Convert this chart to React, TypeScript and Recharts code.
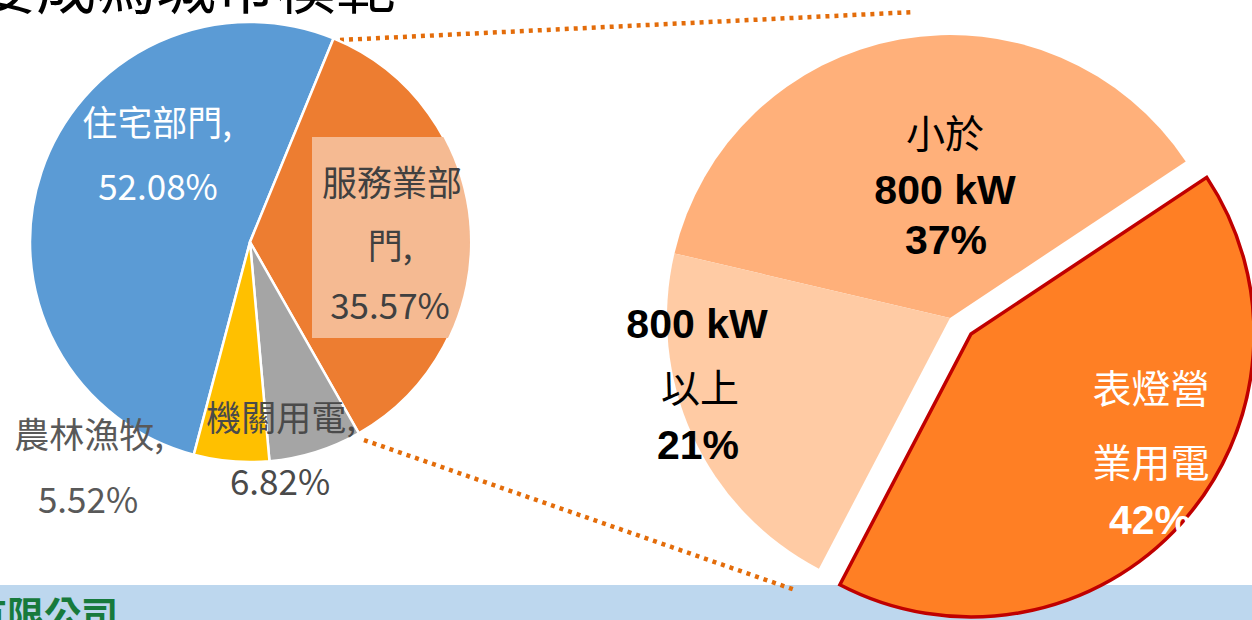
import React from 'react';
import { PieChart, Pie, Cell } from 'recharts';

const W = 1252;
const H = 620;

// Left pie: electricity use by sector (%)
const sectorNames = ['住宅部門', '服務業部門', '機關用電', '農林漁牧'];
const sectorShares = [52.08, 35.57, 6.82, 5.52];
const sectorColors = ['#5B9BD5', '#ED7D31', '#A5A5A5', '#FFC000'];

// Right pie: breakdown of service sector (%)
const serviceTop = ['小於', '800 kW', '表燈營'];
const serviceBottom = ['800 kW', '以上', '業用電'];
const serviceShares = [37, 21, 42];
const serviceColors = ['#FFB07A', '#FFCBA4', '#FF7F24'];

const leftData = sectorNames.map((name, i) => ({ name, value: sectorShares[i] }));
const rightData = serviceShares.map((value, i) => ({ name: serviceTop[i] + serviceBottom[i], value }));

const CJK = "'Noto Sans CJK TC', 'Noto Sans CJK SC', sans-serif";
const ARIAL = "'Liberation Sans', Arial, 'Noto Sans CJK TC', sans-serif";

// label layout offsets (relative to pie centre)
const leftLabelOffsets: number[][][] = [
  [[-93, -122], [-92, -58]],
  [[142, -62], [140, 1], [140, 61]],
  [[31, 173], [30, 237]],
  [[-161, 190], [-162, 255]],
];
const leftLabelColors = ['#FFFFFF', '#404040', '#4A4A4A', '#595959'];

function leftLines(i: number): string[] {
  const n = sectorNames[i];
  const pct = sectorShares[i].toFixed(2) + '%';
  if (n.length > 4) return [n.slice(0, 4), n.slice(4) + ',', pct];
  return [n + ',', pct];
}

const renderLeftLabel = (props: any) => {
  const { cx, cy, index, outerRadius } = props;
  const lines = leftLines(index);
  const offs = leftLabelOffsets[index];
  const color = leftLabelColors[index];
  return (
    <g key={'ll' + index}>
      {index === 1 && (
        <g>
          <defs>
            <clipPath id="leftPieClip">
              <circle cx={cx} cy={cy} r={outerRadius} />
            </clipPath>
          </defs>
          <rect x={cx + 62} y={cy - 105} width={160} height={201} fill="#F5BA92" clipPath="url(#leftPieClip)" />
        </g>
      )}
      {lines.map((t, j) => (
        <text
          key={j}
          x={cx + offs[j][0]}
          y={cy + offs[j][1]}
          textAnchor="middle"
          dominantBaseline="central"
          fill={color}
          fontSize={35}
          fontFamily={CJK}
        >
          {t}
        </text>
      ))}
    </g>
  );
};

const rightLabelOffsets: number[][][] = [
  [[-5, -187], [-5, -128], [-4, -78]],
  [[-253, 6], [-250, 67], [-252, 127]],
  [[180, 52], [180, 126], [179, 186]],
];

function rightLines(i: number): { t: string; bold: boolean; latin: boolean }[] {
  const top = serviceTop[i];
  const bottom = serviceBottom[i];
  const pct = serviceShares[i] + '%';
  const isLatin = (s: string) => /^[0-9 a-zA-Z%]+$/.test(s);
  return [
    { t: top, bold: isLatin(top), latin: isLatin(top) },
    { t: bottom, bold: isLatin(bottom), latin: isLatin(bottom) },
    { t: pct, bold: true, latin: true },
  ];
}

const makeRightLabel = (which: number[]) => (props: any) => {
  const { cx, cy, index } = props;
  if (!which.includes(index)) return <g key={'rl' + index} />;
  const lines = rightLines(index);
  const offs = rightLabelOffsets[index];
  const color = index === 2 ? '#FFFFFF' : '#000000';
  return (
    <g key={'rl' + index}>
      {lines.map((l, j) => (
        <text
          key={j}
          x={cx + offs[j][0]}
          y={cy + offs[j][1]}
          textAnchor="middle"
          dominantBaseline="central"
          fill={color}
          fontSize={l.latin ? 41 : 39}
          fontWeight={l.bold ? 700 : 400}
          fontFamily={l.latin ? ARIAL : CJK}
        >
          {l.t}
        </text>
      ))}
    </g>
  );
};

const noMargin = { top: 0, right: 0, bottom: 0, left: 0 };

export default function App() {
  return (
    <div style={{ position: 'absolute', left: 0, top: 0, width: W, height: H, background: '#FFFFFF', overflow: 'hidden' }}>
      <svg width={W} height={H} style={{ position: 'absolute', left: 0, top: 0 }}>
        <rect x={0} y={585} width={W} height={35} fill="#BDD7EE" />
        <text x={396} y={9} textAnchor="end" fontSize={60} fontFamily={CJK} fill="#000000">
          要成為城市模範
        </text>
        <text x={118} y={629} textAnchor="end" fontSize={37} fontWeight={700} fontFamily={CJK} fill="#177A3C">
          股份有限公司
        </text>
        <line x1={340} y1={40} x2={915} y2={12} stroke="#E36C0A" strokeWidth={4.5} strokeDasharray="4 5" />
        <line x1={364} y1={440} x2={795} y2={590} stroke="#E36C0A" strokeWidth={4.5} strokeDasharray="4 5" />
      </svg>
      <div style={{ position: 'absolute', left: 0, top: 0 }}>
        <PieChart width={W} height={H} margin={noMargin}>
          <Pie
            data={leftData}
            dataKey="value"
            nameKey="name"
            cx={250}
            cy={242}
            outerRadius={220}
            startAngle={-104.8}
            endAngle={-464.8}
            stroke="#FFFFFF"
            strokeWidth={2.5}
            isAnimationActive={false}
            labelLine={false}
            label={renderLeftLabel}
          >
            {leftData.map((d, i) => (
              <Cell key={d.name} fill={sectorColors[i]} stroke="#FFFFFF" strokeWidth={2.5} />
            ))}
          </Pie>
          <Pie
            data={rightData}
            dataKey="value"
            nameKey="name"
            cx={950}
            cy={318}
            outerRadius={283}
            startAngle={33.6}
            endAngle={393.6}
            isAnimationActive={false}
            labelLine={false}
            label={makeRightLabel([0, 1])}
          >
            {rightData.map((d, i) => (
              <Cell key={d.name} fill={i === 2 ? 'none' : serviceColors[i]} stroke="none" />
            ))}
          </Pie>
          <Pie
            data={rightData}
            dataKey="value"
            nameKey="name"
            cx={971}
            cy={334}
            outerRadius={283}
            startAngle={33.6}
            endAngle={393.6}
            isAnimationActive={false}
            labelLine={false}
            label={makeRightLabel([2])}
          >
            {rightData.map((d, i) => (
              <Cell key={d.name} fill={i === 2 ? serviceColors[i] : 'none'} stroke="none" />
            ))}
          </Pie>
          <Pie
            data={rightData}
            dataKey="value"
            nameKey="name"
            cx={971}
            cy={334}
            outerRadius={283}
            startAngle={33.6}
            endAngle={393.6}
            isAnimationActive={false}
            labelLine={false}
            label={false}
          >
            {rightData.map((d, i) => (
              <Cell key={d.name} fill="none" stroke={i === 2 ? '#C00000' : 'none'} strokeWidth={3.5} />
            ))}
          </Pie>
        </PieChart>
      </div>
    </div>
  );
}
